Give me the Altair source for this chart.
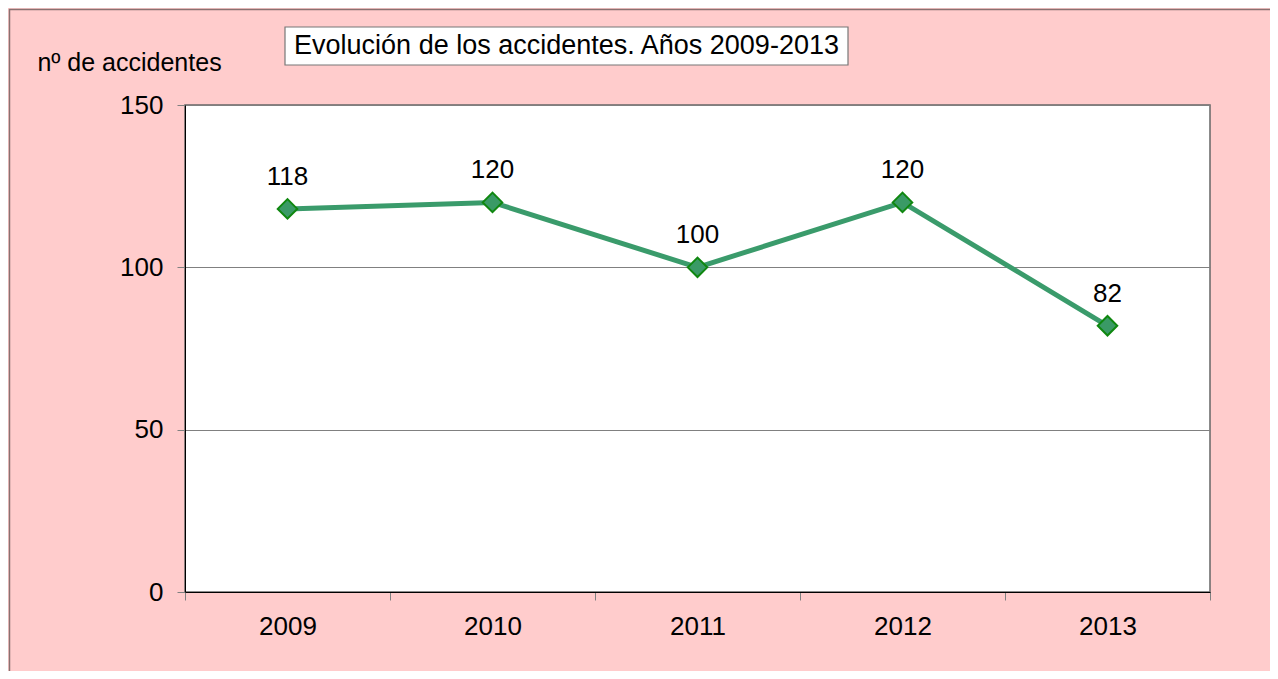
import altair as alt
import pandas as pd

years = ["2009", "2010", "2011", "2012", "2013"]
accidents = [118, 120, 100, 120, 82]
y_ticks = [0, 50, 100, 150]
title_text = "Evolución de los accidentes. Años 2009-2013"
y_title = "nº de accidentes"

df = pd.DataFrame({"year": years, "n": accidents})
one = pd.DataFrame({"k": [0]})

FONT = "Liberation Sans"

x_enc = alt.X("year:N", sort=years,
              scale=alt.Scale(paddingInner=0, paddingOuter=0),
              axis=alt.Axis(title=None, tickBand="extent", labelAngle=0,
                            labelFontSize=26, labelFont=FONT, labelColor="#000",
                            labelPadding=13, tickColor="#808080", tickSize=8,
                            domainColor="#000", grid=False))
y_enc = alt.Y("n:Q", scale=alt.Scale(domain=[0, 150], nice=False),
              axis=alt.Axis(values=y_ticks, title=y_title, titleAngle=0,
                            titleAlign="center", titleBaseline="middle",
                            titleX=-56, titleY=-43, titleFontSize=25,
                            titleFont=FONT, titleFontWeight="normal",
                            titleColor="#000",
                            labelFontSize=26, labelFont=FONT, labelColor="#000",
                            labelPadding=14, tickColor="#808080", tickSize=8,
                            domainColor="#000", grid=True, gridColor="#808080",
                            gridWidth=1))

base = alt.Chart(df)
line = base.mark_line(color="#3a9b6b", strokeWidth=5).encode(x=x_enc, y=y_enc)
pts = base.mark_point(shape="diamond", filled=True, size=380, fill="#3a9a66",
                      stroke="#0f870f", strokeWidth=2, opacity=1).encode(
    x=alt.X("year:N", sort=years), y="n:Q")
labels = base.mark_text(fontSize=26, font=FONT, color="#000", dy=-32,
                        baseline="middle").encode(
    x=alt.X("year:N", sort=years), y="n:Q", text="n:Q")

border = alt.Chart(one).mark_rect(fill=None, stroke="#8a7070", strokeWidth=1.5).encode(
    x=alt.value(-175.5), y=alt.value(-95.5), x2=alt.value(1300), y2=alt.value(800))
tbox = alt.Chart(one).mark_rect(fill="#ffffff", stroke="#777777", strokeWidth=1.2).encode(
    x=alt.value(100), y=alt.value(-78), x2=alt.value(663), y2=alt.value(-40))
ttext = alt.Chart(one).mark_text(text=title_text, fontSize=27, font=FONT,
                                 color="#000", align="center", baseline="middle").encode(
    x=alt.value(381.5), y=alt.value(-59))

chart = alt.layer(border, line, pts, labels, tbox, ttext).properties(
    width=1025, height=487,
    background="#ffcccc",
    padding={"left": 177, "top": 97, "right": 60, "bottom": 79},
    autosize=alt.AutoSizeParams(type="none"),
).configure_view(fill="#ffffff", stroke="#666666", strokeWidth=1.5)

chart.save("out.html", embed_options={"renderer": "svg", "actions": False})
